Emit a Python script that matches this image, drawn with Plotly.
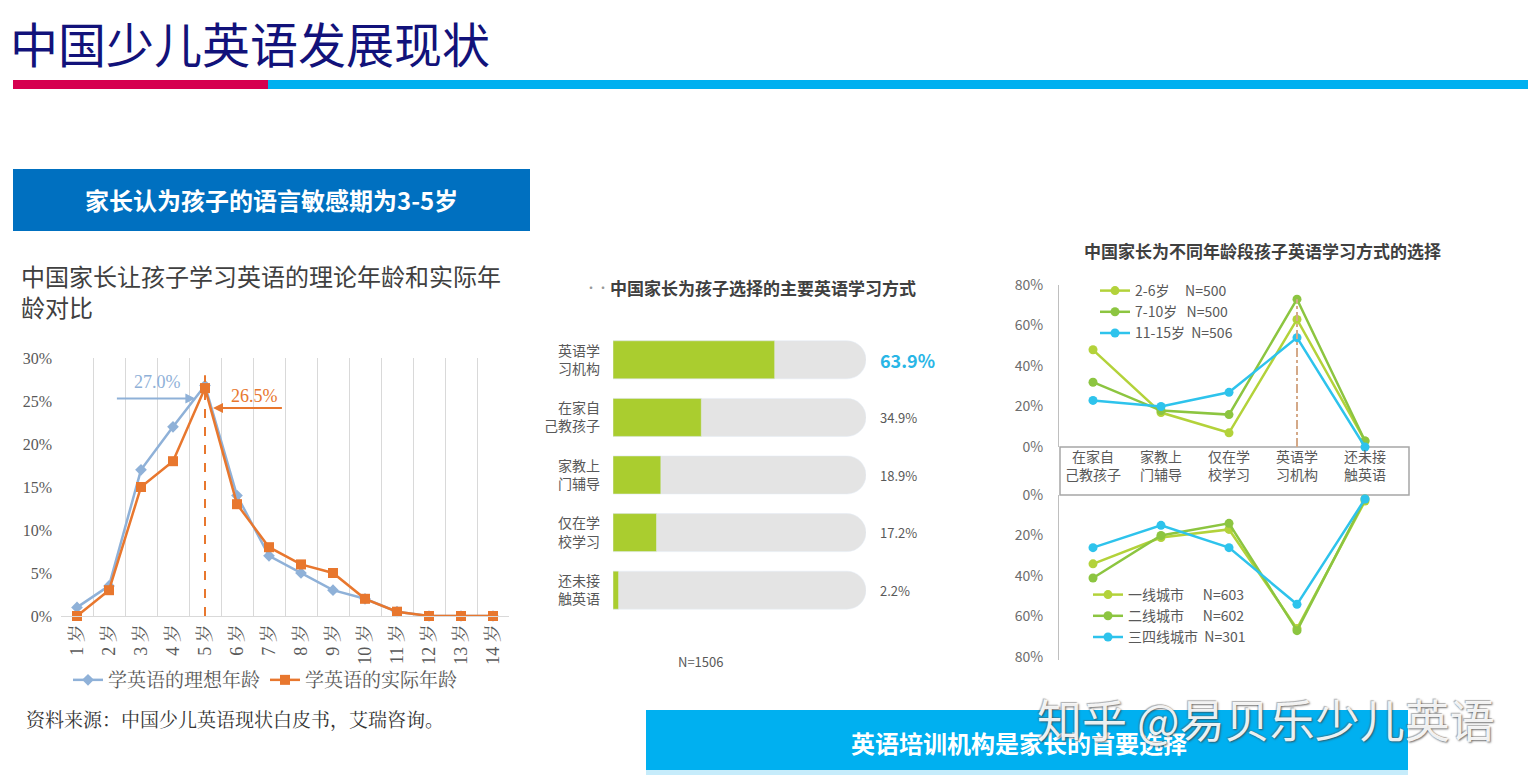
import plotly.graph_objects as go

# The page body has an 8px margin, so the figure is sized to fit the 1536x783 window
OFF = 8
W, H = 1536 - OFF, 783 - OFF
def px(x): return (x - OFF) / W
def py(y): return 1 - (y - OFF) / H

CJK = "Noto Sans CJK SC"
SERIF = "Liberation Serif, Noto Serif CJK SC, Noto Sans CJK SC"

# ---------- data: chart 1 ----------
ages = list(range(1, 15))
age_labels = [f"{a} 岁" for a in ages]
ideal_age = [1, 3.5, 17, 22, 26.8, 14, 7, 5, 3, 2, 0.5, 0, 0, 0]
actual_age = [0, 3, 15, 18, 26.5, 13, 8, 6, 5, 2, 0.5, 0, 0, 0]
peak_age = 5
peak_line_top = 28
ideal_label = "27.0%"
actual_label = "26.5%"
pct_ticks1 = [0, 5, 10, 15, 20, 25, 30]

# ---------- data: chart 2 ----------
methods = ["英语学<br>习机构", "在家自<br>己教孩子", "家教上<br>门辅导", "仅在学<br>校学习", "还未接<br>触英语"]
method_share = [63.9, 34.9, 18.9, 17.2, 2.2]
full_share = [100, 100, 100, 100, 100]

# ---------- data: chart 3 ----------
ways = ["在家自<br>己教孩子", "家教上<br>门辅导", "仅在学<br>校学习", "英语学<br>习机构", "还未接<br>触英语"]
age_groups = ["2-6岁     N=500", "7-10岁   N=500", "11-15岁  N=506"]
age_values = [
    [48, 17, 7, 63, 3],
    [32, 18, 16, 73, 3],
    [23, 20, 27, 54, 0],
]
city_groups = ["一线城市      N=603", "二线城市      N=602", "三四线城市  N=301"]
city_values = [
    [34, 21, 17, 66, 3],
    [41, 20, 14, 67, 2],
    [26, 15, 26, 54, 2],
]
pct_ticks3 = [0, 20, 40, 60, 80]
group_colors = ["#b3d23a", "#8cc540", "#2ec3ec"]

BLUE_L = "#8fb1d8"
ORANGE = "#e8772e"
GRAY_T = "#595959"

fig = go.Figure()

# chart 1 traces
fig.add_trace(go.Scatter(x=ages, y=ideal_age, mode="lines+markers", name="学英语的理想年龄",
                         line=dict(color=BLUE_L, width=2.5), marker=dict(symbol="diamond", size=9, color=BLUE_L),
                         xaxis="x", yaxis="y", cliponaxis=False, legend="legend"))
fig.add_trace(go.Scatter(x=ages, y=actual_age, mode="lines+markers", name="学英语的实际年龄",
                         line=dict(color=ORANGE, width=2.5), marker=dict(symbol="square", size=10, color=ORANGE),
                         xaxis="x", yaxis="y", cliponaxis=False, legend="legend"))
fig.add_trace(go.Scatter(x=[peak_age, peak_age], y=[0, peak_line_top], mode="lines",
                         line=dict(color=ORANGE, width=2, dash="dash"), showlegend=False,
                         xaxis="x", yaxis="y", cliponaxis=False))

# chart 2 traces
fig.add_trace(go.Bar(y=methods, x=full_share, orientation="h", marker=dict(color="#e4e4e4", cornerradius="50%"),
                     width=0.66, xaxis="x2", yaxis="y2", showlegend=False, hoverinfo="skip"))
fig.add_trace(go.Bar(y=methods, x=method_share, orientation="h", marker=dict(color="#aacd2f", cornerradius="50%"),
                     width=0.66, xaxis="x2", yaxis="y2", showlegend=False))

# chart 3 traces
for name, vals, col in zip(age_groups, age_values, group_colors):
    fig.add_trace(go.Scatter(x=ways, y=vals, mode="lines+markers", name=name,
                             line=dict(color=col, width=2.5), marker=dict(size=9, color=col),
                             xaxis="x3", yaxis="y3", cliponaxis=False, legend="legend2"))
inst_idx = 3
fig.add_trace(go.Scatter(x=[ways[inst_idx], ways[inst_idx]], y=[0, max(v[inst_idx] for v in age_values)],
                         mode="lines", line=dict(color="#d4a988", width=2, dash="dashdot"),
                         xaxis="x3", yaxis="y3", showlegend=False))
for name, vals, col in zip(city_groups, city_values, group_colors):
    fig.add_trace(go.Scatter(x=ways, y=vals, mode="lines+markers", name=name,
                             line=dict(color=col, width=2.5), marker=dict(size=9, color=col),
                             xaxis="x4", yaxis="y4", cliponaxis=False, legend="legend3"))

shapes = [
    dict(type="rect", xref="paper", yref="paper", x0=px(13), x1=px(268), y0=py(89), y1=py(80),
         fillcolor="#d6004f", line=dict(width=0)),
    dict(type="rect", xref="paper", yref="paper", x0=px(268), x1=px(1536), y0=py(89), y1=py(80),
         fillcolor="#00b0f0", line=dict(width=0)),
    dict(type="rect", xref="paper", yref="paper", x0=px(13), x1=px(530), y0=py(231), y1=py(169),
         fillcolor="#0070c0", line=dict(width=0)),
    dict(type="rect", xref="paper", yref="paper", x0=px(1060), x1=px(1409), y0=py(495), y1=py(447),
         fillcolor="white", line=dict(color="#a6a6a6", width=1.5), layer="below"),
    dict(type="rect", xref="paper", yref="paper", x0=px(646), x1=px(1408), y0=py(772), y1=py(710),
         fillcolor="#00b0f0", line=dict(width=0)),
    dict(type="rect", xref="paper", yref="paper", x0=px(646), x1=px(1408), y0=py(775), y1=py(770),
         fillcolor="#c6ecfb", line=dict(width=0)),
]

def A(text, x, y, xanchor="center", yanchor="middle", **kw):
    d = dict(text=text, x=x, y=y, xanchor=xanchor, yanchor=yanchor, showarrow=False)
    d.setdefault("xref", "paper"); d.setdefault("yref", "paper")
    d.update(kw)
    return d

ann = [
    A("中国少儿英语发展现状", px(8), py(42), xanchor="left", font=dict(family=CJK, size=48, color="#12127a")),
    A("家长认为孩子的语言敏感期为3-5岁", px(271), py(199), font=dict(family=CJK, size=24, color="white", weight="bold")),
    A("中国家长让孩子学习英语的理论年龄和实际年<br>龄对比", px(19), py(256), xanchor="left", yanchor="top",
      align="left", font=dict(family=CJK, size=24, color="#404040")),
    A("资料来源：中国少儿英语现状白皮书，艾瑞咨询。", px(24), py(720), xanchor="left",
      font=dict(family=SERIF, size=19, color="#333333")),
    # chart 1 peak labels
    A(ideal_label, 3.5, 27.2, xref="x", yref="y", font=dict(family=SERIF, size=18, color=BLUE_L)),
    dict(text="", x=4.7, y=25.3, ax=2.2, ay=25.3, xref="x", yref="y", axref="x", ayref="y",
         showarrow=True, arrowhead=2, arrowsize=1, arrowwidth=2, arrowcolor=BLUE_L),
    A(actual_label, 6.55, 25.6, xref="x", yref="y", font=dict(family=SERIF, size=18, color=ORANGE)),
    dict(text="", x=5.25, y=24.2, ax=7.45, ay=24.2, xref="x", yref="y", axref="x", ayref="y",
         showarrow=True, arrowhead=2, arrowsize=1, arrowwidth=2, arrowcolor=ORANGE),
    # chart 2
    A("··", px(597), py(287), font=dict(family=CJK, size=12, color="#999999")),
    A("中国家长为孩子选择的主要英语学习方式", px(608), py(287), xanchor="left",
      font=dict(family=CJK, size=17, color="#404040", weight="bold")),
    A("N=1506", px(700), py(661), font=dict(family=CJK, size=13, color=GRAY_T)),
    # chart 3
    A("中国家长为不同年龄段孩子英语学习方式的选择", px(1082), py(250), xanchor="left",
      font=dict(family=CJK, size=17, color="#404040", weight="bold")),
    # bottom box
    A("英语培训机构是家长的首要选择", px(1019), py(742), font=dict(family=CJK, size=24, color="white", weight="bold")),
    A("知乎 @易贝乐少儿英语", px(1266), py(718),
      font=dict(family=CJK, size=45, color="rgba(255,255,255,0.92)",
                shadow="1px 1px 2px rgba(60,60,60,0.8), -1px -1px 1px rgba(90,90,90,0.5)")),
]
for cat, v in zip(methods, method_share):
    is_top = v == max(method_share)
    ann.append(A(f"{v:.1f}%", px(878), cat, xanchor="left", yref="y2",
                 font=dict(family=CJK, size=18 if is_top else 13,
                           color="#29b6e6" if is_top else GRAY_T, weight="bold" if is_top else "normal")))

fig.update_layout(
    width=W, height=H, margin=dict(l=0, r=0, t=0, b=0, autoexpand=False),
    paper_bgcolor="white", plot_bgcolor="rgba(0,0,0,0)",
    shapes=shapes, annotations=ann, barmode="overlay",
    xaxis=dict(domain=[px(61), px(509)], range=[0.5, 14.5], tickvals=ages, ticktext=age_labels, anchor="y",
               tickangle=-90, showgrid=False, zeroline=False, showline=True, linecolor="#d9d9d9",
               tickfont=dict(family=SERIF, size=18, color=GRAY_T), ticks="",
               minor=dict(tickmode="linear", tick0=0.5, dtick=1, showgrid=True, gridcolor="#d9d9d9", gridwidth=1)),
    yaxis=dict(domain=[py(616), py(358)], range=[0, 30], tickvals=pct_ticks1, anchor="x",
               ticktext=[f"{t}%" for t in pct_ticks1], showgrid=False, zeroline=False,
               tickfont=dict(family=SERIF, size=16, color=GRAY_T), ticklabelstandoff=8),
    xaxis2=dict(domain=[px(613), px(866)], range=[0, 100], visible=False, anchor="y2"),
    yaxis2=dict(domain=[py(619), py(331)], autorange="reversed", showgrid=False, zeroline=False, anchor="x2",
                showline=False, ticks="", tickfont=dict(family=CJK, size=14, color=GRAY_T), ticklabelstandoff=12),
    xaxis3=dict(domain=[px(1059), px(1399)], range=[-0.5, 4.5], showgrid=False, zeroline=False, showline=False,
                ticks="", tickfont=dict(family=CJK, size=14, color=GRAY_T), anchor="y3"),
    yaxis3=dict(domain=[py(447), py(285)], range=[0, 80], tickvals=pct_ticks3,
                ticktext=[f"{t}%" for t in pct_ticks3], showgrid=False, zeroline=False, showline=True,
                linecolor="#bfbfbf", tickfont=dict(family=CJK, size=14, color="#6d6d6d"), ticklabelstandoff=12,
                anchor="x3"),
    xaxis4=dict(domain=[px(1059), px(1399)], range=[-0.5, 4.5], showgrid=False, zeroline=False, showline=False,
                showticklabels=False, ticks="", anchor="y4", matches="x3"),
    yaxis4=dict(domain=[py(660), py(495)], range=[81.5, 0], tickvals=pct_ticks3,
                ticktext=[f"{t}%" for t in pct_ticks3], showgrid=False, zeroline=False, showline=True,
                linecolor="#bfbfbf", tickfont=dict(family=CJK, size=14, color="#6d6d6d"), ticklabelstandoff=12,
                anchor="x4"),
    legend=dict(x=px(68), y=py(680), xanchor="left", yanchor="middle", orientation="h",
                font=dict(family=SERIF, size=19, color=GRAY_T), itemwidth=30, bgcolor="rgba(0,0,0,0)"),
    legend2=dict(x=px(1095), y=py(275), xanchor="left", yanchor="top", orientation="v",
                 font=dict(family=CJK, size=14, color=GRAY_T), itemwidth=30, bgcolor="rgba(0,0,0,0)",
                 tracegroupgap=0),
    legend3=dict(x=px(1088), y=py(579), xanchor="left", yanchor="top", orientation="v",
                 font=dict(family=CJK, size=14, color=GRAY_T), itemwidth=30, bgcolor="rgba(0,0,0,0)",
                 tracegroupgap=0),
)

fig.write_html("out.html")
